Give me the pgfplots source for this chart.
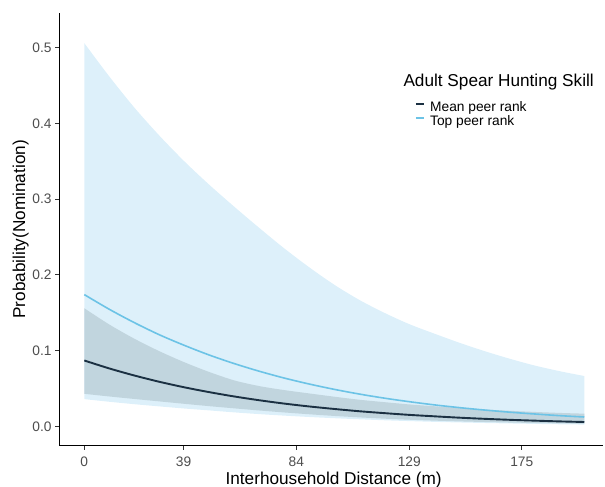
\documentclass[border=0pt]{standalone}
\usepackage{fontspec}
\setmainfont{Liberation Sans}
\usepackage{pgfplots}
\usepackage{pgfplotstable}
\pgfplotsset{compat=1.18}
\usepgfplotslibrary{fillbetween}

\definecolor{ciTop}{RGB}{221,240,250}
\definecolor{ciMean}{RGB}{193,213,222}
\definecolor{lnTop}{RGB}{108,195,230}
\definecolor{lnMean}{RGB}{27,48,66}
\definecolor{tickgrey}{RGB}{77,77,77}

% x = distance, t/tlo/thi = top peer rank, m/mlo/mhi = mean peer rank
\pgfplotstableread{
x   t      tlo    thi    m      mlo    mhi
0   0.1740 0.0360 0.5060 0.0870 0.0430 0.1560
10  0.1546 0.0325 0.4620 0.0765 0.0395 0.1345
20  0.1370 0.0293 0.4210 0.0672 0.0362 0.1158
30  0.1210 0.0264 0.3840 0.0589 0.0330 0.0993
40  0.1070 0.0236 0.3500 0.0516 0.0298 0.0847
50  0.0942 0.0211 0.3190 0.0452 0.0267 0.0718
60  0.0829 0.0185 0.2900 0.0395 0.0238 0.0607
70  0.0728 0.0162 0.2620 0.0345 0.0210 0.0532
80  0.0638 0.0142 0.2350 0.0301 0.0184 0.0479
90  0.0559 0.0124 0.2100 0.0263 0.0160 0.0435
100 0.0489 0.0108 0.1870 0.0230 0.0138 0.0392
110 0.0427 0.0094 0.1670 0.0200 0.0119 0.0352
120 0.0373 0.0081 0.1500 0.0175 0.0102 0.0320
130 0.0326 0.0070 0.1350 0.0152 0.0088 0.0290
140 0.0284 0.0060 0.1225 0.0133 0.0076 0.0266
150 0.0248 0.0052 0.1105 0.0115 0.0066 0.0244
160 0.0216 0.0045 0.0995 0.0100 0.0058 0.0223
170 0.0188 0.0039 0.0895 0.0087 0.0051 0.0206
180 0.0164 0.0033 0.0805 0.0076 0.0045 0.0191
190 0.0142 0.0028 0.0730 0.0066 0.0040 0.0178
200 0.0124 0.0024 0.0665 0.0058 0.0036 0.0168
}\curves

\begin{document}
\begin{tikzpicture}
\begin{axis}[
    scale only axis,
    width=543.7bp, height=432.7bp,
    xmin=-10, xmax=207.5,
    ymin=-0.0255, ymax=0.5458,
    axis lines*=left,
    axis line style={black, line width=1.1bp},
    tick align=outside,
    major tick length=4bp,
    tick style={draw=black!80, line width=1.1bp},
    xtick={0,39.7,84.8,130,175},
    xticklabels={0,39,84,129,175},
    ytick={0,0.1,0.2,0.3,0.4,0.5},
    /pgf/number format/assume math mode=true,
    yticklabel style={/pgf/number format/fixed, /pgf/number format/fixed zerofill, /pgf/number format/precision=1},
    ticklabel style={font=\fontsize{13.76bp}{16bp}\selectfont, text=tickgrey, inner sep=0pt},
    xticklabel style={yshift=-7bp},
    yticklabel style={xshift=-3.6bp},
    xlabel={Interhousehold Distance (m)},
    ylabel={Probability(Nomination)},
    label style={font=\fontsize{17.2bp}{20bp}\selectfont, inner sep=0pt},
    xlabel style={at={([yshift=-38.6bp]rel axis cs:0.5046,0)}, anchor=base},
    ylabel style={at={([xshift=-34.3bp]rel axis cs:0,0.5)}, anchor=base},
    legend style={at={(rel axis cs:0.6542,0.7950)}, anchor=north west,
        draw=none, fill=none, inner sep=0pt, outer sep=0pt,
        row sep=2.5bp, column sep=4.8bp,
        nodes={inner sep=0pt},
        font=\fontsize{13.76bp}{16bp}\selectfont},
    legend cell align=left,
    legend image code/.code={\draw[#1] (0bp,3.5bp) -- (8.5bp,3.5bp);},
]
\addplot[name path=thi, draw=none, forget plot, smooth] table[x=x, y=thi] {\curves};
\addplot[name path=tlo, draw=none, forget plot, smooth] table[x=x, y=tlo] {\curves};
\addplot[fill=ciTop, draw=none, forget plot] fill between[of=thi and tlo];
\addplot[name path=mhi, draw=none, forget plot, smooth] table[x=x, y=mhi] {\curves};
\addplot[name path=mlo, draw=none, forget plot, smooth] table[x=x, y=mlo] {\curves};
\addplot[fill=ciMean, draw=none, forget plot] fill between[of=mhi and mlo];

\addplot[lnMean, line width=1.9bp, smooth, no marks] table[x=x, y=m] {\curves};
\addlegendentry{Mean peer rank}
\addplot[lnTop, line width=1.6bp, smooth, no marks] table[x=x, y=t] {\curves};
\addlegendentry{Top peer rank}

\node[anchor=base west, inner sep=0pt, font=\fontsize{17.2bp}{20bp}\selectfont]
    at (rel axis cs:0.6327,0.8297) {Adult Spear Hunting Skill};

\coordinate (bl) at (rel axis cs:0,0);
\coordinate (tr) at (rel axis cs:1,1);
\end{axis}
\pgfresetboundingbox
\path ([shift={(-59.3bp,-41.3bp)}]bl) rectangle ([shift={(2bp,13bp)}]tr);
\end{tikzpicture}
\end{document}
